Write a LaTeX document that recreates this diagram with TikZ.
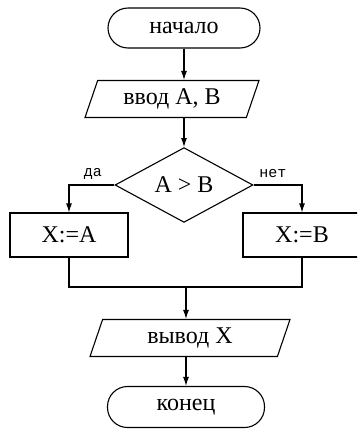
\documentclass[tikz,border=0pt]{standalone}
\usepackage{fontspec}
\setmainfont{Liberation Serif}
\newfontfamily\labelfont{Liberation Mono}
\usetikzlibrary{shapes.geometric,arrows.meta}

\begin{document}
\begin{tikzpicture}[x=1pt,y=-1pt,line width=1.1pt,
  >={Latex[length=9pt,width=6pt]},
  term/.style={draw,rounded corners=20pt,minimum width=152pt,minimum height=40pt,
    font=\fontsize{24}{27}\selectfont},
  io/.style={draw,trapezium,trapezium left angle=65,trapezium right angle=115,
    trapezium stretches body,minimum height=37pt,font=\fontsize{24}{27}\selectfont},
  cond/.style={draw,diamond,minimum width=138pt,minimum height=74pt,inner sep=0pt,
    font=\fontsize{24}{27}\selectfont},
  op/.style={draw,rectangle,minimum width=118pt,minimum height=44pt,
    font=\fontsize{24}{27}\selectfont},
  branch/.style={font=\labelfont\fontsize{15}{17}\selectfont}]
\clip (0,0) rectangle (357,429);

\node[term] (start) at (184,28) {начало};
\node[io,minimum width=174pt] (input) at (172,99) {ввод A, B};
\node[cond] (check) at (184,185) {A > B};
\node[op] (setA) at (69,235) {X:=A};
\node[op] (setB) at (302,235) {X:=B};
\coordinate (join) at (186,287);
\node[io,minimum width=200pt] (output) at (190,338) {вывод X};
\node[term,minimum width=157pt,minimum height=41pt] (stop) at (186,407) {конец};

\node[branch] (yes) at (93,174) {да};
\node[branch] (no) at (273,174) {нет};

\draw[->] (start) -- (start |- input.north);
\draw[->] (check.north |- input.south) -- (check.north);
\draw[->] (check.west) -| (setA.north);
\draw[->] (check.east) -| (setB.north);
\draw (setA.south) |- (join) -| (setB.south);
\draw[->] (join) -- (join |- output.north);
\draw[->] (join |- output.south) -- (stop.north);
\end{tikzpicture}
\end{document}
